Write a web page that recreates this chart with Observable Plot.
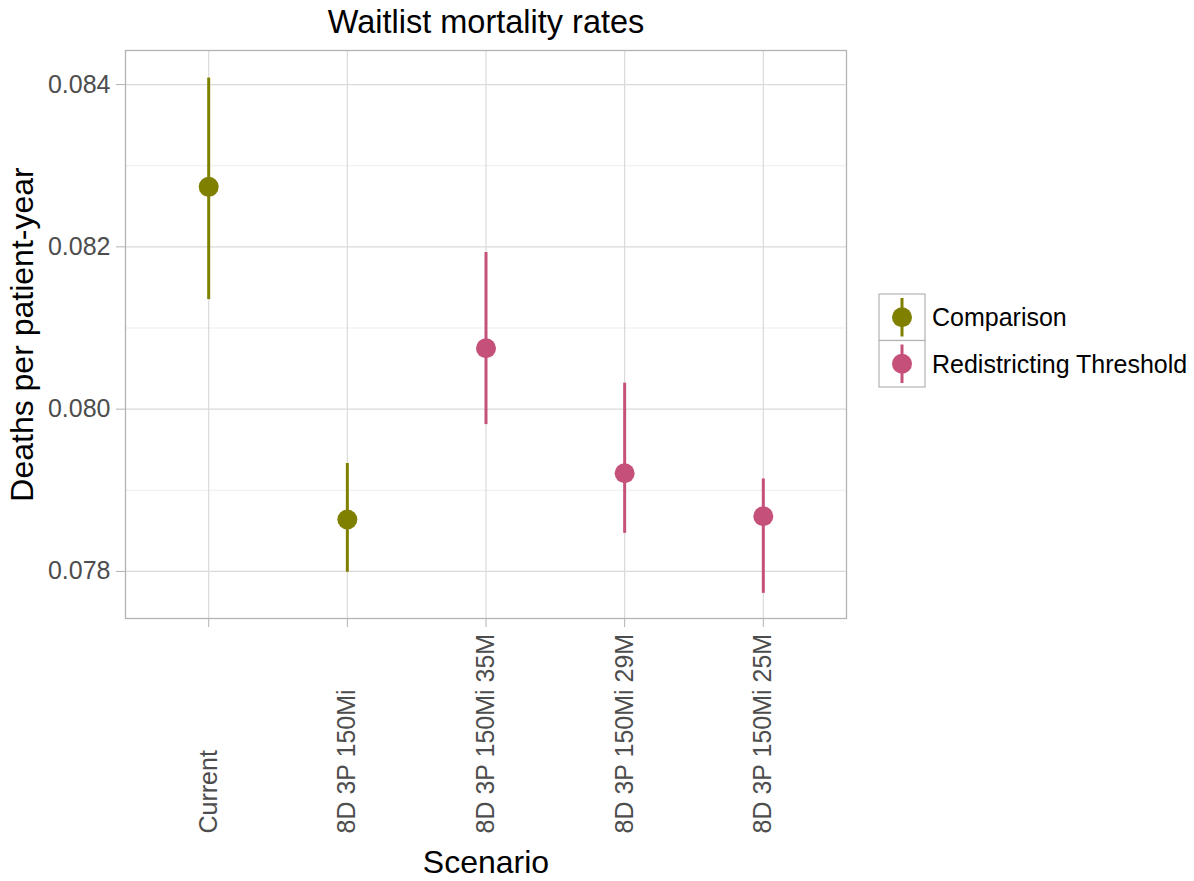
<!DOCTYPE html>
<html>
<head>
<meta charset="utf-8">
<script src="https://cdn.jsdelivr.net/npm/d3@7"></script>
<script src="https://cdn.jsdelivr.net/npm/@observablehq/plot@0.6"></script>
<style>
  html, body { margin: 0; padding: 0; background: #fff; }
  #chart svg { display: block; }
</style>
</head>
<body>
<div id="chart"></div>
<script>
// Waitlist mortality by scenario: point estimate with interval
const scenarios = ["Current", "8D 3P 150Mi", "8D 3P 150Mi 35M", "8D 3P 150Mi 29M", "8D 3P 150Mi 25M"];
const groups = ["Comparison", "Comparison", "Redistricting Threshold", "Redistricting Threshold", "Redistricting Threshold"];
const rates = [0.08274, 0.07864, 0.08075, 0.07921, 0.07868];
const lower = [0.08135, 0.07799, 0.07981, 0.07847, 0.07773];
const upper = [0.08408, 0.07933, 0.08193, 0.08032, 0.07914];

const groupNames = ["Comparison", "Redistricting Threshold"];
const groupColors = ["#808000", "#C5507A"];
const majorTicks = [0.078, 0.080, 0.082, 0.084];
const minorTicks = [0.079, 0.081, 0.083];

const rows = scenarios.map((s, i) => ({
  scenario: s, group: groups[i], rate: rates[i], lower: lower[i], upper: upper[i]
}));

const font = "'Liberation Sans', Arial, sans-serif";

const chart = Plot.plot({
  width: 1194,
  height: 881,
  marginLeft: 125,
  marginRight: 348,
  marginTop: 50,
  marginBottom: 263,
  style: { fontFamily: font, background: "#fff", overflow: "visible" },
  x: { type: "point", domain: scenarios, padding: 0.6, round: false, label: null },
  y: { domain: [0.07742, 0.08442], label: null },
  color: { domain: groupNames, range: groupColors },
  marks: [
    Plot.ruleY(minorTicks, { stroke: "#ededed", strokeWidth: 1 }),
    Plot.gridY(majorTicks, { stroke: "#dadada", strokeOpacity: 1, strokeWidth: 1.2 }),
    Plot.gridX({ stroke: "#dadada", strokeOpacity: 1, strokeWidth: 1.2 }),
    Plot.frame({ stroke: "#b3b3b3", strokeWidth: 1.3 }),
    Plot.axisY(majorTicks, {
      tickSize: 9, tickPadding: 6, fontSize: 25,
      stroke: "#b3b3b3", fill: "#4d4d4d",
      tickFormat: d3.format(".3f"), label: null
    }),
    Plot.axisX({ tickSize: 9, stroke: "#b3b3b3", tickFormat: () => "", label: null }),
    // rotated scenario labels, reading upward from a common baseline
    Plot.text(scenarios, {
      x: d => d, frameAnchor: "bottom", dy: 215, rotate: -90,
      textAnchor: "start", lineAnchor: "middle", fontSize: 25, fill: "#4d4d4d"
    }),
    // intervals and point estimates
    Plot.ruleX(rows, { x: "scenario", y1: "lower", y2: "upper", stroke: "group", strokeWidth: 3 }),
    Plot.dot(rows, { x: "scenario", y: "rate", fill: "group", r: 10 }),
    // titles
    Plot.text(["Waitlist mortality rates"], {
      frameAnchor: "top", dy: -28, textAnchor: "middle", lineAnchor: "middle", fontSize: 32.5, fill: "#000"
    }),
    Plot.text(["Deaths per patient-year"], {
      frameAnchor: "left", dx: -103, rotate: -90, textAnchor: "middle", lineAnchor: "middle", fontSize: 32, fill: "#000"
    }),
    Plot.text(["Scenario"], {
      frameAnchor: "bottom", dy: 244, textAnchor: "middle", lineAnchor: "middle", fontSize: 32, fill: "#000"
    })
  ]
});

document.getElementById("chart").appendChild(chart);

// legend: keyed boxes to the right of the panel
const svg = d3.select(chart);
const legend = svg.append("g")
  .attr("transform", "translate(879,294)")
  .style("font-family", font);
const keyW = 46, keyH = 46.5;
groupNames.forEach((name, i) => {
  const g = legend.append("g").attr("transform", `translate(0,${i * keyH})`);
  g.append("rect")
    .attr("width", keyW).attr("height", keyH)
    .attr("fill", "#fff").attr("stroke", "#b3b3b3").attr("stroke-width", 1.2);
  g.append("line")
    .attr("x1", keyW / 2).attr("x2", keyW / 2)
    .attr("y1", 4).attr("y2", keyH - 4)
    .attr("stroke", groupColors[i]).attr("stroke-width", 3);
  g.append("circle")
    .attr("cx", keyW / 2).attr("cy", keyH / 2).attr("r", 10)
    .attr("fill", groupColors[i]);
  g.append("text")
    .attr("x", keyW + 7).attr("y", keyH / 2)
    .attr("dy", "0.35em")
    .attr("text-anchor", "start")
    .attr("font-size", 25).attr("fill", "#000")
    .text(name);
});
</script>
</body>
</html>
